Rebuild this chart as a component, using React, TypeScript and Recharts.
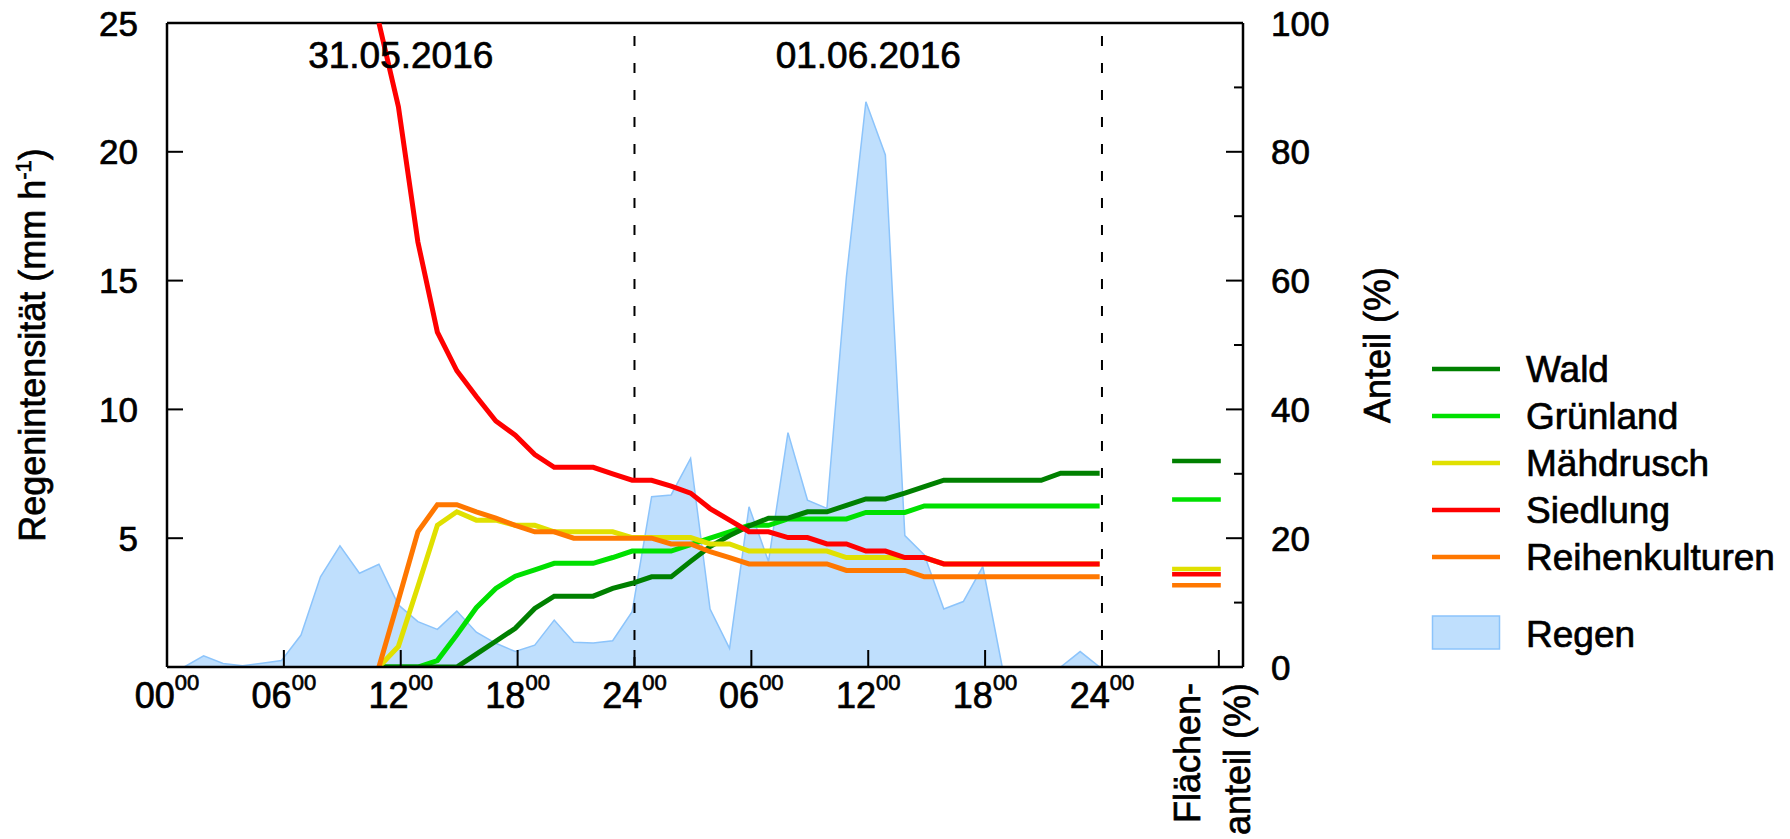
import React from 'react';
import { ComposedChart, Area, Line, XAxis, YAxis, ReferenceLine, Legend } from 'recharts';

const FONT = '"Liberation Sans", Arial, Helvetica, sans-serif';
// etwas kräftigere Schrift wie im Original
const TXT = { fontFamily: FONT, fill: '#000', stroke: '#000', strokeWidth: 0.7 };

// Stunden ab 31.05.2016 00:00
const stunden = [
  0.88, 1.88, 2.88, 3.88, 4.88, 5.88, 6.88, 7.88, 8.88, 9.88,
  10.88, 11.88, 12.88, 13.88, 14.88, 15.88, 16.88, 17.88, 18.88, 19.88,
  20.88, 21.88, 22.88, 23.88, 24.88, 25.88, 26.88, 27.88, 28.88, 29.88,
  30.88, 31.88, 32.88, 33.88, 34.88, 35.88, 36.88, 37.88, 38.88, 39.88,
  40.88, 41.88, 42.88, 43.88, 44.88, 45.88, 46.88, 47.88,
];

// Regenintensität (mm/h)
const regen = [
  0, 0.43, 0.14, 0.05, 0.15, 0.25, 1.24, 3.5, 4.7, 3.64,
  3.99, 2.41, 1.76, 1.46, 2.17, 1.35, 0.92, 0.6, 0.85, 1.82,
  0.96, 0.93, 1.02, 2.15, 6.61, 6.68, 8.1, 2.25, 0.72, 6.22,
  4.1, 9.1, 6.48, 6.16, 15.15, 21.94, 19.88, 5.1, 4.35, 2.25,
  2.54, 3.9, 0, 0, 0, 0, 0.6, 0,
];

// Anteil (%) je Landnutzung
const leer = [null, null, null, null, null, null, null, null, null, null];
const wald = [
  ...leer,
  0, 0, 0, 0, 0, 2, 4, 6, 9.1, 11, 11, 11, 12.2, 13, 14, 14, 16.4, 18.7, 20.4, 21.9,
  23.1, 23.1, 24.1, 24.1, 25.1, 26.1, 26.1, 27, 28, 29, 29, 29, 29, 29, 29, 30.1, 30.1, 30.1,
];
const gruenland = [
  ...leer,
  0, 0, 0, 1, 5, 9.2, 12.2, 14.1, 15.1, 16.1, 16.1, 16.1, 17, 18, 18, 18, 19, 20, 21, 22,
  22, 23, 23, 23, 23, 24, 24, 24, 25, 25, 25, 25, 25, 25, 25, 25, 25, 25,
];
const maehdrusch = [
  ...leer,
  0, 3.2, 12.5, 22, 24.1, 22.8, 22.8, 22, 22, 21, 21, 21, 21, 20.1, 20.1, 20.1, 20.1, 19.1, 19.1,
  18, 18, 18, 18, 18, 17, 17, 17, 17, 17, 16, 16, 16, 16, 16, 16, 16, 16, 16,
];
const siedlung = [
  ...leer,
  100, 87, 66, 52, 46, 42, 38.2, 36, 33, 31, 31, 31, 30, 29, 29, 28.1, 27, 24.6, 22.8, 21,
  21, 20.1, 20.1, 19.1, 19.1, 18, 18, 17, 17, 16, 16, 16, 16, 16, 16, 16, 16, 16,
];
const reihenkulturen = [
  ...leer,
  0, 10.4, 21, 25.2, 25.2, 24.1, 23.1, 22, 21, 21, 20, 20, 20, 20, 20, 19.1, 19.1, 17.9, 17,
  16, 16, 16, 16, 16, 15, 15, 15, 15, 14, 14, 14, 14, 14, 14, 14, 14, 14, 14,
];

// Flächenanteil im Einzugsgebiet (%): Wald, Grünland, Mähdrusch, Siedlung, Reihenkulturen
const flaechenanteil = [32, 26, 15.2, 14.4, 12.7];

const xTicks = [0, 6, 12, 18, 24, 30, 36, 42, 48, 54];
const xTickLabels = ['00', '06', '12', '18', '24', '06', '12', '18', '24', ''];
const leftTicks = [5, 10, 15, 20, 25];
const rightTicks = [0, 10, 20, 30, 40, 50, 60, 70, 80, 90, 100];
const tage = ['31.05.2016', '01.06.2016'];
const tagesMitte = [12, 36];
const tagesGrenzen = [24, 48];

const serien = [
  { key: 'wald', name: 'Wald', color: '#008000' },
  { key: 'gruenland', name: 'Grünland', color: '#00e000' },
  { key: 'maehdrusch', name: 'Mähdrusch', color: '#e0e000' },
  { key: 'siedlung', name: 'Siedlung', color: '#ff0000' },
  { key: 'reihenkulturen', name: 'Reihenkulturen', color: '#ff7700' },
];
const zeichenReihenfolge = ['gruenland', 'wald', 'maehdrusch', 'siedlung', 'reihenkulturen'];

const data = stunden.map((t, i) => ({
  t,
  regen: regen[i],
  wald: wald[i],
  gruenland: gruenland[i],
  maehdrusch: maehdrusch[i],
  siedlung: siedlung[i],
  reihenkulturen: reihenkulturen[i],
}));

function XTick(props: any) {
  const { x, y, payload } = props;
  const i = xTicks.indexOf(payload.value);
  const tick = <line x1={x} x2={x} y1={y} y2={y - 17} stroke="#000" strokeWidth={2} />;
  if (payload.value === 54) {
    return (
      <g>
        {tick}
        <text transform={`translate(${x - 19},${y + 16}) rotate(-90)`} textAnchor="end" fontSize={36} {...TXT}>
          Flächen-
        </text>
        <text transform={`translate(${x + 31},${y + 16}) rotate(-90)`} textAnchor="end" fontSize={36} {...TXT}>
          anteil (%)
        </text>
      </g>
    );
  }
  return (
    <g>
      {tick}
      <text x={x} y={y + 41} textAnchor="middle" fontSize={36} {...TXT}>
        {xTickLabels[i]}
        <tspan dy={-18} fontSize={22}>00</tspan>
      </text>
    </g>
  );
}

function LeftTick(props: any) {
  const { x, y, payload } = props;
  return (
    <g>
      <line x1={x} x2={x + 16} y1={y} y2={y} stroke="#000" strokeWidth={2} />
      <text x={x - 29} y={y} dy="0.36em" textAnchor="end" fontSize={35} {...TXT}>
        {payload.value}
      </text>
    </g>
  );
}

function RightTick(props: any) {
  const { x, y, payload } = props;
  const major = payload.value % 20 === 0;
  return (
    <g>
      <line x1={x - (major ? 17 : 9)} x2={x} y1={y} y2={y} stroke="#000" strokeWidth={2} />
      {major && (
        <text x={x + 28} y={y} dy="0.36em" textAnchor="start" fontSize={35} {...TXT}>
          {payload.value}
        </text>
      )}
    </g>
  );
}

function LeftTitle(props: any) {
  const vb = props.viewBox || { x: 0, y: 23, width: 167, height: 644 };
  const cy = vb.y + vb.height / 2;
  return (
    <text transform={`translate(${vb.x + 45},${cy}) rotate(-90)`} textAnchor="middle" fontSize={36} {...TXT}>
      Regenintensität (mm h<tspan dy={-14} fontSize={22}>-1</tspan>
      <tspan dy={14}>)</tspan>
    </text>
  );
}

function RightTitle(props: any) {
  const vb = props.viewBox || { x: 1243, y: 23, width: 100, height: 644 };
  const cy = vb.y + vb.height / 2;
  return (
    <text transform={`translate(${vb.x + 147},${cy}) rotate(-90)`} textAnchor="middle" fontSize={36} {...TXT}>
      Anteil (%)
    </text>
  );
}

function Legende() {
  return (
    <svg width={360} height={320} style={{ display: 'block', overflow: 'visible' }}>
      {serien.map((s, i) => (
        <g key={s.key}>
          <line x1={0} x2={68} y1={29 + 47 * i} y2={29 + 47 * i} stroke={s.color} strokeWidth={4.5} />
          <text x={94} y={29 + 47 * i} dy="0.36em" fontSize={37} {...TXT}>
            {s.name}
          </text>
        </g>
      ))}
      <rect x={0.5} y={276} width={67} height={33} fill="#bfdffd" stroke="#8cc4fb" strokeWidth={1.5} />
      <text x={94} y={294} dy="0.36em" fontSize={37} {...TXT}>
        Regen
      </text>
    </svg>
  );
}

export default function App() {
  return (
    <div style={{ position: 'absolute', left: 0, top: 0, background: '#fff' }}>
      <ComposedChart width={1790} height={839} data={data} margin={{ top: 23, right: 447, bottom: 112, left: 0 }}>
        <XAxis
          dataKey="t"
          type="number"
          domain={[0, 55.24]}
          ticks={xTicks}
          interval={0}
          allowDataOverflow
          height={60}
          tickLine={false}
          tickSize={0}
          tickMargin={0}
          axisLine={{ stroke: '#000', strokeWidth: 2.5 }}
          tick={(p: any) => <XTick {...p} />}
        />
        <YAxis
          yAxisId="left"
          domain={[0, 25]}
          ticks={leftTicks}
          interval={0}
          allowDataOverflow
          width={167}
          tickLine={false}
          tickSize={0}
          tickMargin={0}
          axisLine={{ stroke: '#000', strokeWidth: 2.5 }}
          tick={(p: any) => <LeftTick {...p} />}
          label={<LeftTitle />}
        />
        <YAxis
          yAxisId="right"
          orientation="right"
          domain={[0, 100]}
          ticks={rightTicks}
          interval={0}
          allowDataOverflow
          width={100}
          tickLine={false}
          tickSize={0}
          tickMargin={0}
          axisLine={{ stroke: '#000', strokeWidth: 2.5 }}
          tick={(p: any) => <RightTick {...p} />}
          label={<RightTitle />}
        />
        <Area
          yAxisId="left"
          type="linear"
          dataKey="regen"
          name="Regen"
          stroke="#8cc4fb"
          strokeWidth={1.5}
          fill="#bfdffd"
          fillOpacity={1}
          dot={false}
          activeDot={false}
          isAnimationActive={false}
        />
        <ReferenceLine yAxisId="left" y={25} stroke="#000" strokeWidth={2.5} />
        {tagesGrenzen.map((g) => (
          <ReferenceLine key={g} yAxisId="left" x={g} stroke="#000" strokeWidth={2} strokeDasharray="10 17" />
        ))}
        {tage.map((d, i) => (
          <ReferenceLine
            key={d}
            yAxisId="left"
            x={tagesMitte[i]}
            stroke="none"
            label={{ value: d, position: 'insideTop', offset: 19, fontSize: 37, ...TXT }}
          />
        ))}
        {zeichenReihenfolge.map((k) => {
          const s = serien.find((x) => x.key === k)!;
          return (
            <Line
              key={k}
              yAxisId="right"
              type="linear"
              dataKey={k}
              name={s.name}
              stroke={s.color}
              strokeWidth={5}
              dot={false}
              activeDot={false}
              isAnimationActive={false}
            />
          );
        })}
        {serien.map((s, i) => (
          <ReferenceLine
            key={'fa-' + s.key}
            yAxisId="right"
            segment={[
              { x: 51.6, y: flaechenanteil[i] },
              { x: 54.1, y: flaechenanteil[i] },
            ]}
            stroke={s.color}
            strokeWidth={4.5}
          />
        ))}
        <Legend
          layout="horizontal"
          verticalAlign="middle"
          content={() => <Legende />}
          wrapperStyle={{ position: 'absolute', left: 1432, top: 340, width: 360, height: 320 }}
        />
      </ComposedChart>
    </div>
  );
}
